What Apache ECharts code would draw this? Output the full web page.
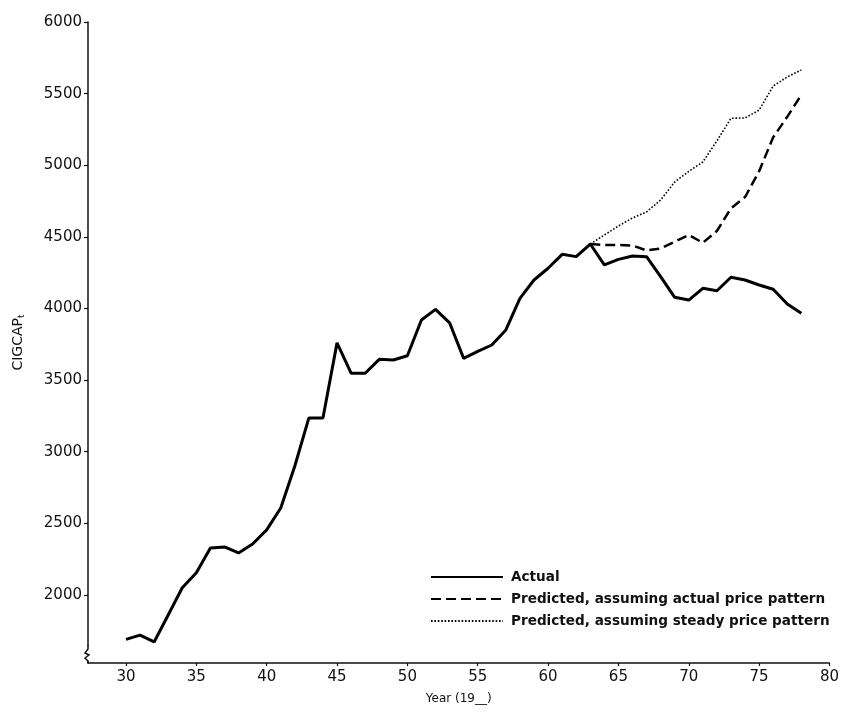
<!DOCTYPE html>
<html>
<head>
<meta charset="utf-8">
<title>CIGCAP</title>
<script src="https://cdn.jsdelivr.net/npm/echarts@6/dist/echarts.min.js"></script>
<style>
  html, body { margin: 0; padding: 0; background: #ffffff; }
  #chart { width: 842px; height: 724px; }
</style>
</head>
<body>
<div id="chart"></div>
<script>
// Yearly observations, 1930-1978
const years = [30, 31, 32, 33, 34, 35, 36, 37, 38, 39, 40, 41, 42, 43, 44, 45, 46, 47, 48, 49,
  50, 51, 52, 53, 54, 55, 56, 57, 58, 59, 60, 61, 62, 63, 64, 65, 66, 67, 68, 69,
  70, 71, 72, 73, 74, 75, 76, 77, 78];
const actual = [1690, 1720, 1672, 1860, 2050, 2155, 2328, 2335, 2293, 2356, 2454, 2607, 2900, 3236, 3236, 3760, 3548, 3548, 3645, 3640,
  3670, 3920, 3994, 3900, 3652, 3700, 3745, 3850, 4071, 4199, 4281, 4378, 4362, 4450, 4305, 4343, 4366, 4362, 4222, 4078,
  4059, 4141, 4124, 4218, 4199, 4164, 4134, 4031, 3966];

// Simulations starting from 1963
const predYears = [63, 64, 65, 66, 67, 68, 69, 70, 71, 72, 73, 74, 75, 76, 77, 78];
const predActualPrice = [4450, 4443, 4443, 4440, 4405, 4419, 4466, 4513, 4459, 4541, 4699, 4778, 4958, 5195, 5338, 5491];
const predSteadyPrice = [4450, 4513, 4576, 4632, 4674, 4757, 4883, 4957, 5023, 5170, 5328, 5330, 5385, 5553, 5616, 5665];

// Axis tick labels
const xTicks = [30, 35, 40, 45, 50, 55, 60, 65, 70, 75, 80];
const yTicks = [2000, 2500, 3000, 3500, 4000, 4500, 5000, 5500, 6000];

const seriesNames = ['Actual', 'Predicted, assuming actual price pattern', 'Predicted, assuming steady price pattern'];

const pairs = (xs, ys) => xs.map((x, i) => [x, ys[i]]);

const X_MIN = 27.3, X_MAX = 80, Y_MIN = 1525, Y_MAX = 6000;
const FONT = '"DejaVu Sans", sans-serif';

const chart = echarts.init(document.getElementById('chart'), null, { renderer: 'canvas' });

chart.setOption({
  animation: false,
  backgroundColor: '#ffffff',
  color: ['#000000', '#000000', '#000000'],
  grid: { left: 88, right: 11, top: 22, bottom: 61, containLabel: false },
  xAxis: {
    type: 'value',
    min: X_MIN,
    max: X_MAX,
    name: 'Year (19__)',
    nameLocation: 'middle',
    nameGap: 30,
    nameTextStyle: { color: '#111', fontSize: 12, fontFamily: FONT },
    axisLine: { show: true, onZero: false, lineStyle: { color: '#111', width: 1.5 } },
    axisTick: { show: true, inside: false, length: 3, customValues: xTicks, lineStyle: { color: '#111', width: 1.2 } },
    axisLabel: { customValues: xTicks, margin: 7, color: '#111', fontSize: 15, fontFamily: FONT,
      formatter: v => String(v) },
    splitLine: { show: false }
  },
  yAxis: {
    type: 'value',
    min: Y_MIN,
    max: Y_MAX,
    name: 'CIGCAP{s|t}',
    nameLocation: 'middle',
    nameGap: 62,
    nameRotate: 90,
    nameTextStyle: {
      color: '#111', fontSize: 14, fontFamily: FONT,
      rich: { s: { fontSize: 9, fontFamily: FONT, color: '#111', verticalAlign: 'bottom', padding: [6, 0, 0, 0] } }
    },
    axisLine: { show: true, onZero: false, lineStyle: { color: '#111', width: 1.5 } },
    axisTick: { show: true, inside: false, length: 4, customValues: yTicks, lineStyle: { color: '#111', width: 1.2 } },
    axisLabel: { customValues: yTicks, margin: 6, color: '#111', fontSize: 15, fontFamily: FONT,
      formatter: v => String(v) },
    splitLine: { show: false }
  },
  legend: {
    orient: 'vertical',
    left: 425,
    top: 565,
    itemWidth: 72,
    itemHeight: 14,
    itemGap: 8,
    data: seriesNames,
    itemStyle: { opacity: 0 },
    textStyle: { color: '#111', fontSize: 13.6, fontWeight: 'bold', fontFamily: FONT, padding: [0, 0, 0, 3] }
  },
  series: [
    {
      name: seriesNames[0], type: 'line', data: pairs(years, actual),
      symbol: 'none', lineStyle: { color: '#000', width: 3, type: 'solid' }, z: 3
    },
    {
      name: seriesNames[1], type: 'line', data: pairs(predYears, predActualPrice),
      symbol: 'none', lineStyle: { color: '#000', width: 2.5, type: [10, 5] }, z: 2
    },
    {
      name: seriesNames[2], type: 'line', data: pairs(predYears, predSteadyPrice),
      symbol: 'none', lineStyle: { color: '#000', width: 1.6, type: [1.6, 1.8] }, z: 2
    }
  ]
});

// Axis-break squiggle at the foot of the vertical axis
const corner = chart.convertToPixel({ gridIndex: 0 }, [X_MIN, Y_MIN]);
const cx = corner[0], cy = corner[1];
chart.setOption({
  graphic: [
    { type: 'rect', shape: { x: cx - 5, y: cy - 17, width: 10, height: 15 }, style: { fill: '#ffffff' }, z: 100 },
    {
      type: 'polyline', z: 101,
      shape: { points: [[cx, cy - 18], [cx, cy - 14], [cx - 3, cy - 10], [cx + 1, cy - 8], [cx - 3, cy - 5], [cx, cy - 2], [cx, cy]] },
      style: { stroke: '#111', lineWidth: 1.5, fill: null }
    }
  ]
});
</script>
</body>
</html>
